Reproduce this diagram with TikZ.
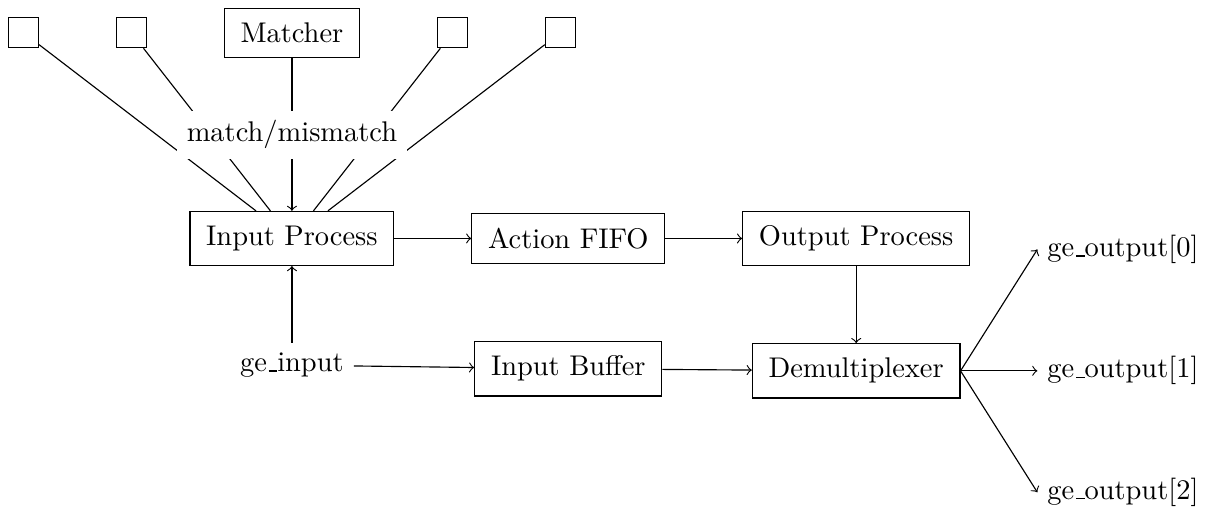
\documentclass[tikz,border=0pt]{standalone}
\usetikzlibrary{positioning,backgrounds}

% old-style underscore that sits on the baseline
\newcommand{\uscore}{\leavevmode\kern.06em\vbox{\hrule width .3em}}

\begin{document}
\begin{tikzpicture}[->,>=to,auto,node distance=27pt,
    block/.style={rectangle,draw,inner xsep=5.7pt,inner ysep=5.1pt},
    slot/.style={rectangle,draw,inner sep=0pt,minimum size=10.5pt}]

        \useasboundingbox (-102.6pt,-95.4pt) rectangle (322.3pt,83.8pt);

        \node[block] (ip) at (0,0) {Input Process};
        \node[block] (fifo) [right=of ip] {Action FIFO};
        \node[block] (op) [right=of fifo] {Output Process};

        \node[fill=white] (mm) [above=18.2pt of ip] {match/mismatch};
        \node[block] (matcher) [above=18.5pt of mm] {Matcher};
        \node[slot] (s2) [left=of matcher] {};
        \node[slot] (s1) [left=of s2] {};
        \node[slot] (s3) [right=of matcher] {};
        \node[slot] (s4) [right=of s3] {};

        \node (in) [below=of ip] {ge\uscore input};
        \node[block] (buf) [below=of fifo] {Input Buffer};
        \node[block] (demux) [below=of op] {Demultiplexer};

        \node (out1) [right=of demux] {ge\uscore output[1]};
        \node (out0) [above of=out1, node distance=1.5cm] {ge\uscore output[0]};
        \node (out2) [below of=out1, node distance=1.5cm] {ge\uscore output[2]};

        % the side wires run under the label
        \begin{scope}[on background layer]
        \path
        (s1) edge[-] (ip)
        (s2) edge[-] (ip)
        (s3) edge[-] (ip)
        (s4) edge[-] (ip);
        \end{scope}

        \path
        (matcher) edge[-] (mm)
        (mm) edge (ip)
        (ip) edge (fifo)
        (fifo) edge (op)
        (op) edge (demux)
        (in) edge (ip)
        (in) edge (buf)
        (buf) edge (demux)

        (demux.east) edge (out0.west)
        (demux.east) edge (out1.west)
        (demux.east) edge (out2.west)
        ;
    \end{tikzpicture}
\end{document}
